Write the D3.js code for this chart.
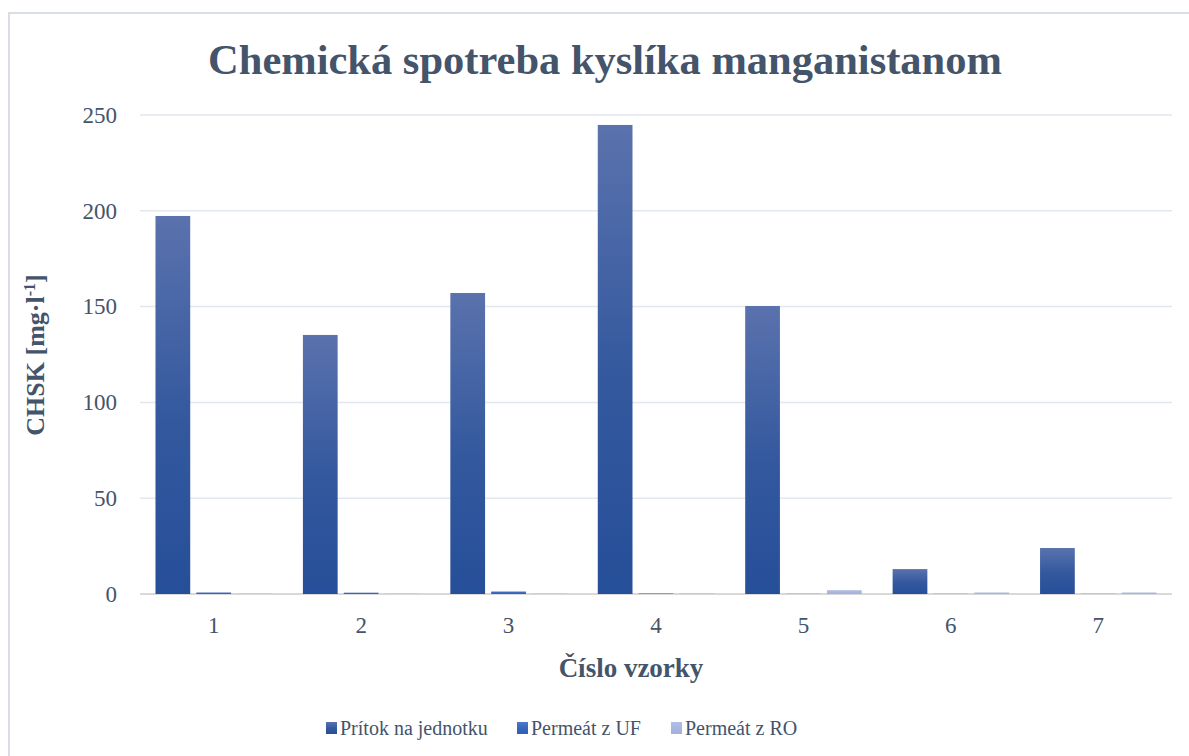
<!DOCTYPE html>
<html>
<head>
<meta charset="utf-8">
<script src="https://cdn.jsdelivr.net/npm/d3@7"></script>
<style>
  body { margin: 0; background: #fff; }
  svg { display: block; }
</style>
</head>
<body>
<svg id="chart"></svg>
<script>
const width = 1189;
const height = 756;
const margin = { top: 115, right: 17, bottom: 162, left: 140 };

// data
const samples = ["1", "2", "3", "4", "5", "6", "7"];
const seriesNames = ["Prítok na jednotku", "Permeát z UF", "Permeát z RO"];
const pritok = [197.3, 135.2, 157.1, 244.8, 150.3, 13.0, 24.0];
const permeatUF = [0.8, 0.7, 1.3, 0.3, 0.1, 0.1, 0.1];
const permeatRO = [0.2, 0.2, 0.2, 0.3, 2.0, 0.8, 0.8];
const yTicks = [0, 50, 100, 150, 200, 250];

const seriesValues = [pritok, permeatUF, permeatRO];
const gradStops = [
  ["#5a72ad", "#264f99"],
  ["#4f78c8", "#2f5fb8"],
  ["#b3bfe4", "#a3b1de"]
];
const textColor = "#44546a";
const serif = "'Liberation Serif', 'Times New Roman', serif";

const svg = d3.select("#chart")
  .attr("width", width)
  .attr("height", height);

const defs = svg.append("defs");
gradStops.forEach((s, i) => {
  const g = defs.append("linearGradient")
    .attr("id", "grad" + i)
    .attr("x1", 0).attr("y1", 0).attr("x2", 0).attr("y2", 1);
  g.append("stop").attr("offset", "0%").attr("stop-color", s[0]);
  g.append("stop").attr("offset", "55%").attr("stop-color", d3.interpolateRgb(s[0], s[1])(0.75));
  g.append("stop").attr("offset", "100%").attr("stop-color", s[1]);
});

// chart border
svg.append("rect")
  .attr("x", 9).attr("y", 13)
  .attr("width", width + 10).attr("height", height)
  .attr("fill", "none")
  .attr("stroke", "#d9dee4")
  .attr("stroke-width", 2);

const x0 = d3.scaleBand()
  .domain(samples)
  .range([margin.left, width - margin.right])
  .paddingInner(0.21)
  .paddingOuter(0.105);

const x1 = d3.scaleBand()
  .domain(d3.range(3))
  .range([0, x0.bandwidth()])
  .paddingInner(0.15);

const y = d3.scaleLinear()
  .domain([0, 250])
  .range([height - margin.bottom, margin.top]);

// grid lines
svg.append("g")
  .selectAll("line")
  .data(yTicks)
  .join("line")
  .attr("x1", margin.left)
  .attr("x2", width - margin.right)
  .attr("y1", d => y(d))
  .attr("y2", d => y(d))
  .attr("stroke", d => d === 0 ? "#d9d9d9" : "#e3e7ee")
  .attr("stroke-width", d => d === 0 ? 2 : 1.5);

// bars
const groups = svg.append("g")
  .selectAll("g")
  .data(samples)
  .join("g")
  .attr("transform", d => `translate(${x0(d)},0)`);

groups.selectAll("rect")
  .data((d, i) => seriesValues.map((vals, s) => ({ s, v: vals[i] })))
  .join("rect")
  .attr("x", d => x1(d.s))
  .attr("width", x1.bandwidth())
  .attr("y", d => y(d.v))
  .attr("height", d => y(0) - y(d.v))
  .attr("fill", d => `url(#grad${d.s})`);

// y axis
const yAxis = svg.append("g")
  .attr("transform", `translate(${margin.left - 10},0)`)
  .call(d3.axisLeft(y).tickValues(yTicks).tickSize(0).tickPadding(13));
yAxis.select(".domain").remove();
yAxis.selectAll("text")
  .style("font-family", serif)
  .style("font-size", "23px")
  .attr("fill", textColor);

// x axis
const xAxis = svg.append("g")
  .attr("transform", `translate(0,${height - margin.bottom})`)
  .call(d3.axisBottom(x0).tickSize(0).tickPadding(23));
xAxis.select(".domain").remove();
xAxis.selectAll("text")
  .style("font-family", serif)
  .style("font-size", "23px")
  .attr("fill", textColor);

// title
svg.append("text")
  .attr("x", 605)
  .attr("y", 74)
  .attr("text-anchor", "middle")
  .style("font-family", serif)
  .style("font-weight", "bold")
  .style("font-size", "42.5px")
  .attr("fill", textColor)
  .text("Chemická spotreba kyslíka manganistanom");

// axis titles
const yTitle = svg.append("text")
  .attr("transform", "translate(44,355) rotate(-90)")
  .attr("text-anchor", "middle")
  .style("font-family", serif)
  .style("font-weight", "bold")
  .style("font-size", "26px")
  .attr("fill", textColor);
yTitle.append("tspan").text("CHSK [mg·l");
yTitle.append("tspan").attr("dy", -9).style("font-size", "16px").text("-1");
yTitle.append("tspan").attr("dy", 9).text("]");

svg.append("text")
  .attr("x", 631)
  .attr("y", 677)
  .attr("text-anchor", "middle")
  .style("font-family", serif)
  .style("font-weight", "bold")
  .style("font-size", "27px")
  .attr("fill", textColor)
  .text("Číslo vzorky");

// legend
const legendX = [326, 517, 671];
const legend = svg.append("g")
  .selectAll("g")
  .data(seriesNames)
  .join("g")
  .attr("transform", (d, i) => `translate(${legendX[i]},722)`);
legend.append("rect")
  .attr("width", 11).attr("height", 12)
  .attr("fill", (d, i) => `url(#grad${i})`);
legend.append("text")
  .attr("x", 14)
  .attr("y", 13)
  .style("font-family", serif)
  .style("font-size", "20px")
  .attr("fill", textColor)
  .text(d => d);
</script>
</body>
</html>
